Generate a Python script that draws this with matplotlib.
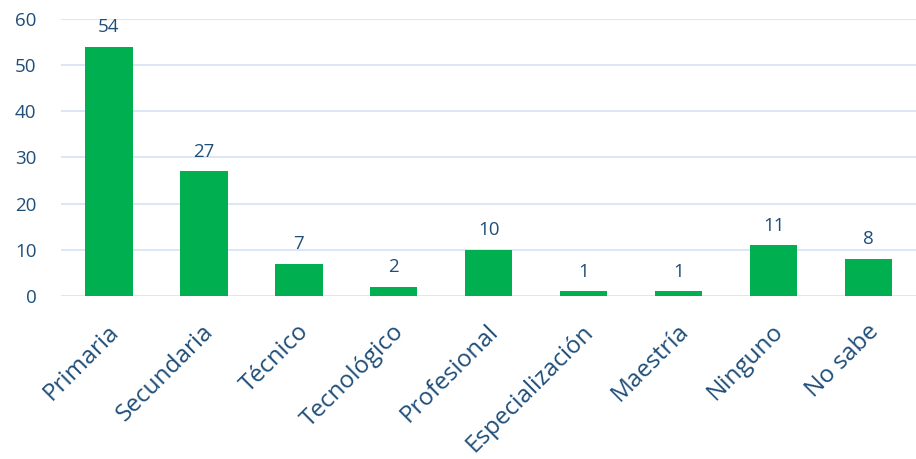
import matplotlib.pyplot as plt
import matplotlib.transforms as mtransforms
import numpy as np

# ---------- Data ----------
categories = ['Primaria', 'Secundaria', 'Técnico', 'Tecnológico', 'Profesional',
              'Especialización', 'Maestría', 'Ninguno', 'No sabe']
values = [54, 27, 7, 2, 10, 1, 1, 11, 8]

text_color = '#1F4E79'
bar_color = '#00B050'
grid_color = '#D6E3F3'

plt.rcParams['font.family'] = ['Open Sans', 'DejaVu Sans']

fig = plt.figure(figsize=(9.16, 4.59), dpi=100)
ax = fig.add_axes([0.067, 0.355, 0.933, 0.604])

x = np.arange(len(categories))
ax.bar(x, values, width=0.5, color=bar_color, zorder=3)

for xi, v in zip(x, values):
    ax.text(xi, v + 2.3, str(v), ha='center', va='bottom', fontsize=13.5, color=text_color)

ax.set_ylim(0, 60)
ax.set_xlim(-0.5, len(categories) - 0.5)
ax.set_yticks(range(0, 61, 10))
ax.yaxis.grid(True, color=grid_color, linewidth=1.2, zorder=0)
ax.set_axisbelow(True)
for s in ax.spines.values():
    s.set_visible(False)

ax.set_xticks(x)
ax.set_xticklabels(categories, rotation=45, ha='right', rotation_mode='anchor',
                   fontsize=17.5, color=text_color)
ax.tick_params(axis='x', length=0, pad=17)
ax.tick_params(axis='y', length=0, labelsize=13.5, labelcolor=text_color, pad=18)

# small horizontal nudge of the rotated labels
shift = mtransforms.ScaledTranslation(-2 / 100, 0, fig.dpi_scale_trans)
for lbl in ax.get_xticklabels():
    lbl.set_transform(lbl.get_transform() + shift)

fig.savefig('out.png', dpi=100)
